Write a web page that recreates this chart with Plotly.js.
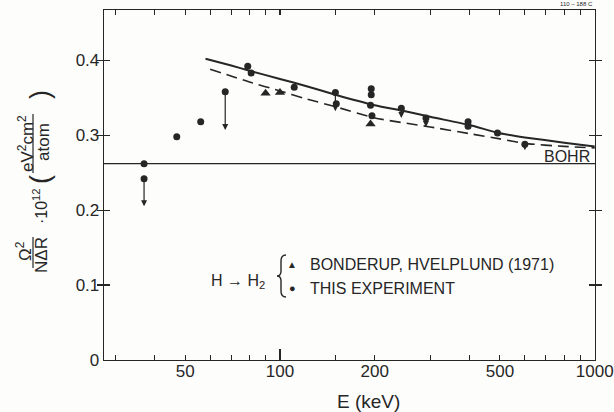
<!DOCTYPE html>
<html>
<head>
<meta charset="utf-8">
<script src="https://cdn.plot.ly/plotly-3.0.1.min.js"></script>
<style>
  html, body { margin: 0; padding: 0; background: #fdfdfc; }
  #chart { width: 614px; height: 412px; }
</style>
</head>
<body>
<div id="chart"></div>
<script>
// Energy-loss straggling of H in H2 versus projectile energy

// This experiment (E in keV, straggling in units of 1e-12 eV^2 cm^2 / atom)
const expE = [37, 37, 47, 56, 67, 79, 81, 111, 150, 151, 195, 195, 194, 196, 243, 291, 396, 396, 491, 600];
const expV = [0.262, 0.242, 0.298, 0.318, 0.358, 0.392, 0.383, 0.364, 0.357, 0.342, 0.362, 0.354, 0.340, 0.326, 0.336, 0.323, 0.318, 0.312, 0.303, 0.288];

// Bonderup, Hvelplund (1971)
const bonE = [90, 100, 194];
const bonV = [0.356, 0.357, 0.315];

// Upper limits: arrows pointing down from the measured value
const arrowE = [37, 67, 150, 243, 291, 600];
const arrowFrom = [0.242, 0.358, 0.357, 0.336, 0.323, 0.288];
const arrowTo = [0.205, 0.307, 0.332, 0.323, 0.311, 0.280];

// Theory curves
const solidE = [58, 70, 80, 100, 120, 150, 200, 250, 300, 400, 500, 600, 800, 1000];
const solidV = [0.402, 0.393, 0.386, 0.375, 0.366, 0.354, 0.340, 0.332, 0.3245, 0.3135, 0.3025, 0.297, 0.290, 0.285];
const dashE = [60, 80, 100, 120, 150, 200, 300, 400, 500, 600, 800, 1000];
const dashV = [0.388, 0.371, 0.359, 0.349, 0.338, 0.323, 0.311, 0.302, 0.295, 0.289, 0.285, 0.283];

// Bohr value
const BOHR = 0.262;

// Axis ticks
const xTickVals = [50, 100, 200, 500, 1000];
const xTickText = ['50', '100', '200', '500', '1000'];
const xMinorVals = [30, 40, 60, 70, 80, 90, 150, 300, 400, 600, 700, 800, 900];
const yTickVals = [0, 0.1, 0.2, 0.3, 0.4];
const yTickText = ['0', '0.1', '0.2', '0.3', '0.4'];

const INK = '#262626';
const SANS = '"Liberation Sans", Arial, sans-serif';

const W = 614, H = 412;
const M = { l: 104, r: 19, t: 10, b: 52 };
const PW = W - M.l - M.r, PH = H - M.t - M.b;
// pixel -> paper coordinates for labels placed around the frame
const px = x => (x - M.l) / PW;
const py = y => 1 - (y - M.t) / PH;
const pt = (x, y) => px(x).toFixed(5) + ',' + py(y).toFixed(5);

const traces = [
  {
    x: solidE, y: solidV, type: 'scatter', mode: 'lines',
    line: { color: INK, width: 2, shape: 'spline', smoothing: 0.6 },
    hoverinfo: 'skip'
  },
  {
    x: dashE, y: dashV, type: 'scatter', mode: 'lines',
    line: { color: INK, width: 1.6, dash: '11px,6px', shape: 'spline', smoothing: 0.6 },
    hoverinfo: 'skip'
  },
  {
    x: bonE, y: bonV, type: 'scatter', mode: 'markers',
    marker: { symbol: 'triangle-up', size: 9, color: INK },
    name: 'BONDERUP, HVELPLUND (1971)'
  },
  {
    x: expE, y: expV, type: 'scatter', mode: 'markers',
    marker: { symbol: 'circle', size: 7, color: INK },
    name: 'THIS EXPERIMENT'
  },
  {
    // carrier for the long 100 keV tick axis
    x: [100], y: [BOHR], xaxis: 'x2', type: 'scatter', mode: 'none',
    hoverinfo: 'skip'
  }
];

const annotations = [];

arrowE.forEach((e, i) => {
  annotations.push({
    x: Math.log10(e), y: arrowTo[i], xref: 'x', yref: 'y',
    ax: Math.log10(e), ay: arrowFrom[i], axref: 'x', ayref: 'y',
    text: '', showarrow: true, arrowhead: 2, arrowsize: 1, arrowwidth: 1.2,
    arrowcolor: INK, standoff: 0, startstandoff: 0
  });
});

function label(text, x, y, size, opts) {
  annotations.push(Object.assign({
    text: text, xref: 'paper', yref: 'paper', x: px(x), y: py(y),
    xanchor: 'center', yanchor: 'middle', showarrow: false,
    font: { family: SANS, size: size, color: INK }
  }, opts || {}));
}

// Y axis title: Ω² / NΔR · 10¹² (eV²cm² / atom), rotated
label('Ω<sup>2</sup>', 24, 251, 17, { textangle: -90 });
label('NΔR', 42, 255, 17, { textangle: -90 });
label('·10<sup>12</sup>', 40, 206, 16, { textangle: -90 });
label('(', 40, 180, 27, { textangle: -90 });
label('eV<sup>2</sup>cm<sup>2</sup>', 26, 144, 17, { textangle: -90 });
label('atom', 43, 142, 17, { textangle: -90 });
label(')', 40, 95, 27, { textangle: -90 });

// X axis title
label('E (keV)', 368, 401, 19);

// Bohr label
label('BOHR', 567, 157, 16);

// Legend block
label('H → H<sub>2</sub>', 238, 281, 16);
label('▲', 292, 264, 10);
label('●', 292, 288, 11);
label('BONDERUP, HVELPLUND (1971)', 308, 264, 16, { xanchor: 'left' });
label('THIS EXPERIMENT', 308, 288, 16, { xanchor: 'left' });

// Figure code
label('110 – 188 C', 576, 4, 6);

// Thin curly brace joining the two legend rows
const bracePath = 'M' + pt(286, 255) +
  ' Q' + pt(281, 255) + ' ' + pt(281, 261) +
  ' L' + pt(281, 271) +
  ' Q' + pt(281, 276) + ' ' + pt(277, 276) +
  ' Q' + pt(281, 276) + ' ' + pt(281, 281) +
  ' L' + pt(281, 291) +
  ' Q' + pt(281, 297) + ' ' + pt(286, 297);

const shapes = [
  { type: 'line', xref: 'paper', yref: 'y', x0: 0, x1: 1, y0: BOHR, y1: BOHR,
    line: { color: INK, width: 1.3 } },
  { type: 'line', xref: 'paper', yref: 'paper', x0: px(33), x1: px(33), y0: py(237), y1: py(268),
    line: { color: INK, width: 1.2 } },
  { type: 'line', xref: 'paper', yref: 'paper', x0: px(33), x1: px(33), y0: py(114), y1: py(173),
    line: { color: INK, width: 1.2 } },
  { type: 'path', xref: 'paper', yref: 'paper', path: bracePath,
    line: { color: INK, width: 1.4 } }
];

const xRange = [Math.log10(27.6), 3.001];

const layout = {
  width: W, height: H,
  margin: M,
  paper_bgcolor: '#fdfdfc',
  plot_bgcolor: '#fdfdfc',
  showlegend: false,
  xaxis: {
    type: 'log', range: xRange,
    tickmode: 'array', tickvals: xTickVals, ticktext: xTickText,
    ticks: 'inside', ticklen: 5, tickwidth: 1.1, tickcolor: INK,
    minor: { tickmode: 'array', tickvals: xMinorVals, ticks: 'inside', ticklen: 5, tickwidth: 1.1, tickcolor: INK, showgrid: false },
    showline: true, linecolor: INK, linewidth: 1.3, mirror: 'allticks',
    showgrid: false, zeroline: false,
    ticklabelstandoff: -5,
    tickfont: { family: SANS, size: 17, color: INK }
  },
  xaxis2: {
    type: 'log', range: xRange, overlaying: 'x', anchor: 'y', side: 'bottom',
    tickmode: 'array', tickvals: [100], ticks: 'inside', ticklen: 11, tickwidth: 1.1,
    tickcolor: INK, showticklabels: false, showline: false, showgrid: false, zeroline: false
  },
  yaxis: {
    range: [0, 0.467],
    tickmode: 'array', tickvals: yTickVals, ticktext: yTickText,
    ticks: 'inside', ticklen: 6, tickwidth: 1.1, tickcolor: INK,
    showline: true, linecolor: INK, linewidth: 1.3, mirror: 'allticks',
    showgrid: false, zeroline: false,
    tickfont: { family: SANS, size: 17, color: INK }
  },
  annotations: annotations,
  shapes: shapes
};

Plotly.newPlot('chart', traces, layout, { staticPlot: true, displayModeBar: false });
</script>
</body>
</html>
